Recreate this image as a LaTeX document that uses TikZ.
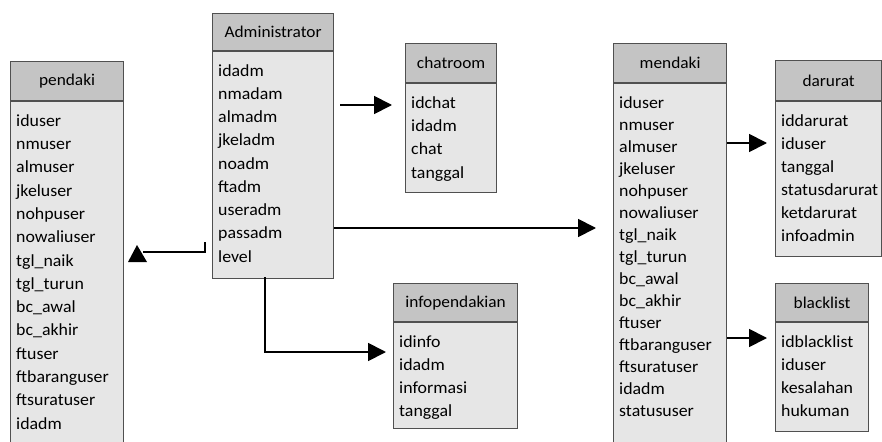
\documentclass[tikz,border=0pt]{standalone}
\usepackage{fontspec}
\setmainfont[FakeStretch=1.05]{Carlito}
\usetikzlibrary{arrows.meta}
\definecolor{hdrgray}{HTML}{C4C4C4}
\definecolor{bodygray}{HTML}{E6E6E6}
\definecolor{edgegray}{HTML}{505050}
\newcommand{\erdtbl}[9]{%
  \node[hdr, minimum width=#4pt, minimum height=#5pt] (#1h) at (#2,#3) {#8};
  \node[bodyb, minimum width=#4pt, minimum height=#6pt] (#1) at (#1h.south west) {};
  \foreach \t [count=\i from 0] in {#9}
    \node[item] (#1-\i) at ([xshift=6pt, yshift=-25pt-\i*#7pt]#1.north west) {\t};
}
\begin{document}
\begin{tikzpicture}[x=1pt,y=-1pt,
  hdr/.style={draw=edgegray, fill=hdrgray, line width=1.2pt, anchor=north west, inner sep=0pt, font=\fontsize{16.5}{18}\selectfont},
  bodyb/.style={draw=edgegray, fill=bodygray, line width=1.2pt, anchor=north west, inner sep=0pt},
  item/.style={anchor=base west, inner sep=0pt, font=\fontsize{17}{19}\selectfont},
  conn/.style={line width=1.8pt, -{Triangle[length=18pt,width=18pt]}}]
\useasboundingbox (0,0) rectangle (882,441);
\clip (0,0) rectangle (882,441);

\erdtbl{pendaki}{10}{61}{113}{39}{400}{23.3}{pendaki}{iduser,nmuser,almuser,jkeluser,nohpuser,nowaliuser,tgl\_naik,tgl\_turun,bc\_awal,bc\_akhir,ftuser,ftbaranguser,ftsuratuser,idadm}
\erdtbl{admin}{212}{13}{121}{37}{227}{23.25}{Administrator}{idadm,nmadam,almadm,jkeladm,noadm,ftadm,useradm,passadm,level}
\erdtbl{chat}{405}{43}{91}{39}{109}{23.3}{chatroom}{idchat,idadm,chat,tanggal}
\erdtbl{info}{393}{283}{124}{38}{106}{23}{infopendakian}{idinfo,idadm,informasi,tanggal}
\erdtbl{mendaki}{613}{43}{113}{39}{400}{22}{mendaki}{iduser,nmuser,almuser,jkeluser,nohpuser,nowaliuser,tgl\_naik,tgl\_turun,bc\_awal,bc\_akhir,ftuser,ftbaranguser,ftsuratuser,idadm,statususer}
\erdtbl{darurat}{775}{60}{106}{40}{155}{23}{darurat}{iddarurat,iduser,tanggal,statusdarurat,ketdarurat,infoadmin}
\erdtbl{black}{775}{283}{93}{38}{109}{23}{blacklist}{idblacklist,iduser,kesalahan,hukuman}

% connectors
\coordinate (c1s) at (340,105);
\coordinate (c1e) at (392,105);
\draw[conn] (c1s) -- (c1e);

\draw[conn] (admin.east |- 0,228) -- ([xshift=-17pt]mendaki.west |- 0,228);

\coordinate (c3s) at (265,277);
\draw[conn] (c3s) -- (265,352) -- ([xshift=-7pt]info.west |- 0,352);

\draw[conn] (mendaki.east |- 0,143) -- ([xshift=-8pt]darurat.west |- 0,143);
\draw[conn] (mendaki.east |- 0,338) -- ([xshift=-8pt]black.west |- 0,338);

\coordinate (c6s) at (205,242);
\coordinate (c6e) at (143,252);
\draw[line width=1.8pt] (c6s) -- (205,252) -- (c6e);
\fill ([xshift=-15pt,yshift=-10pt]c6e) -- ([xshift=4pt,yshift=-10pt]c6e) -- ([xshift=-6pt,yshift=7pt]c6e) -- cycle;
\end{tikzpicture}
\end{document}
